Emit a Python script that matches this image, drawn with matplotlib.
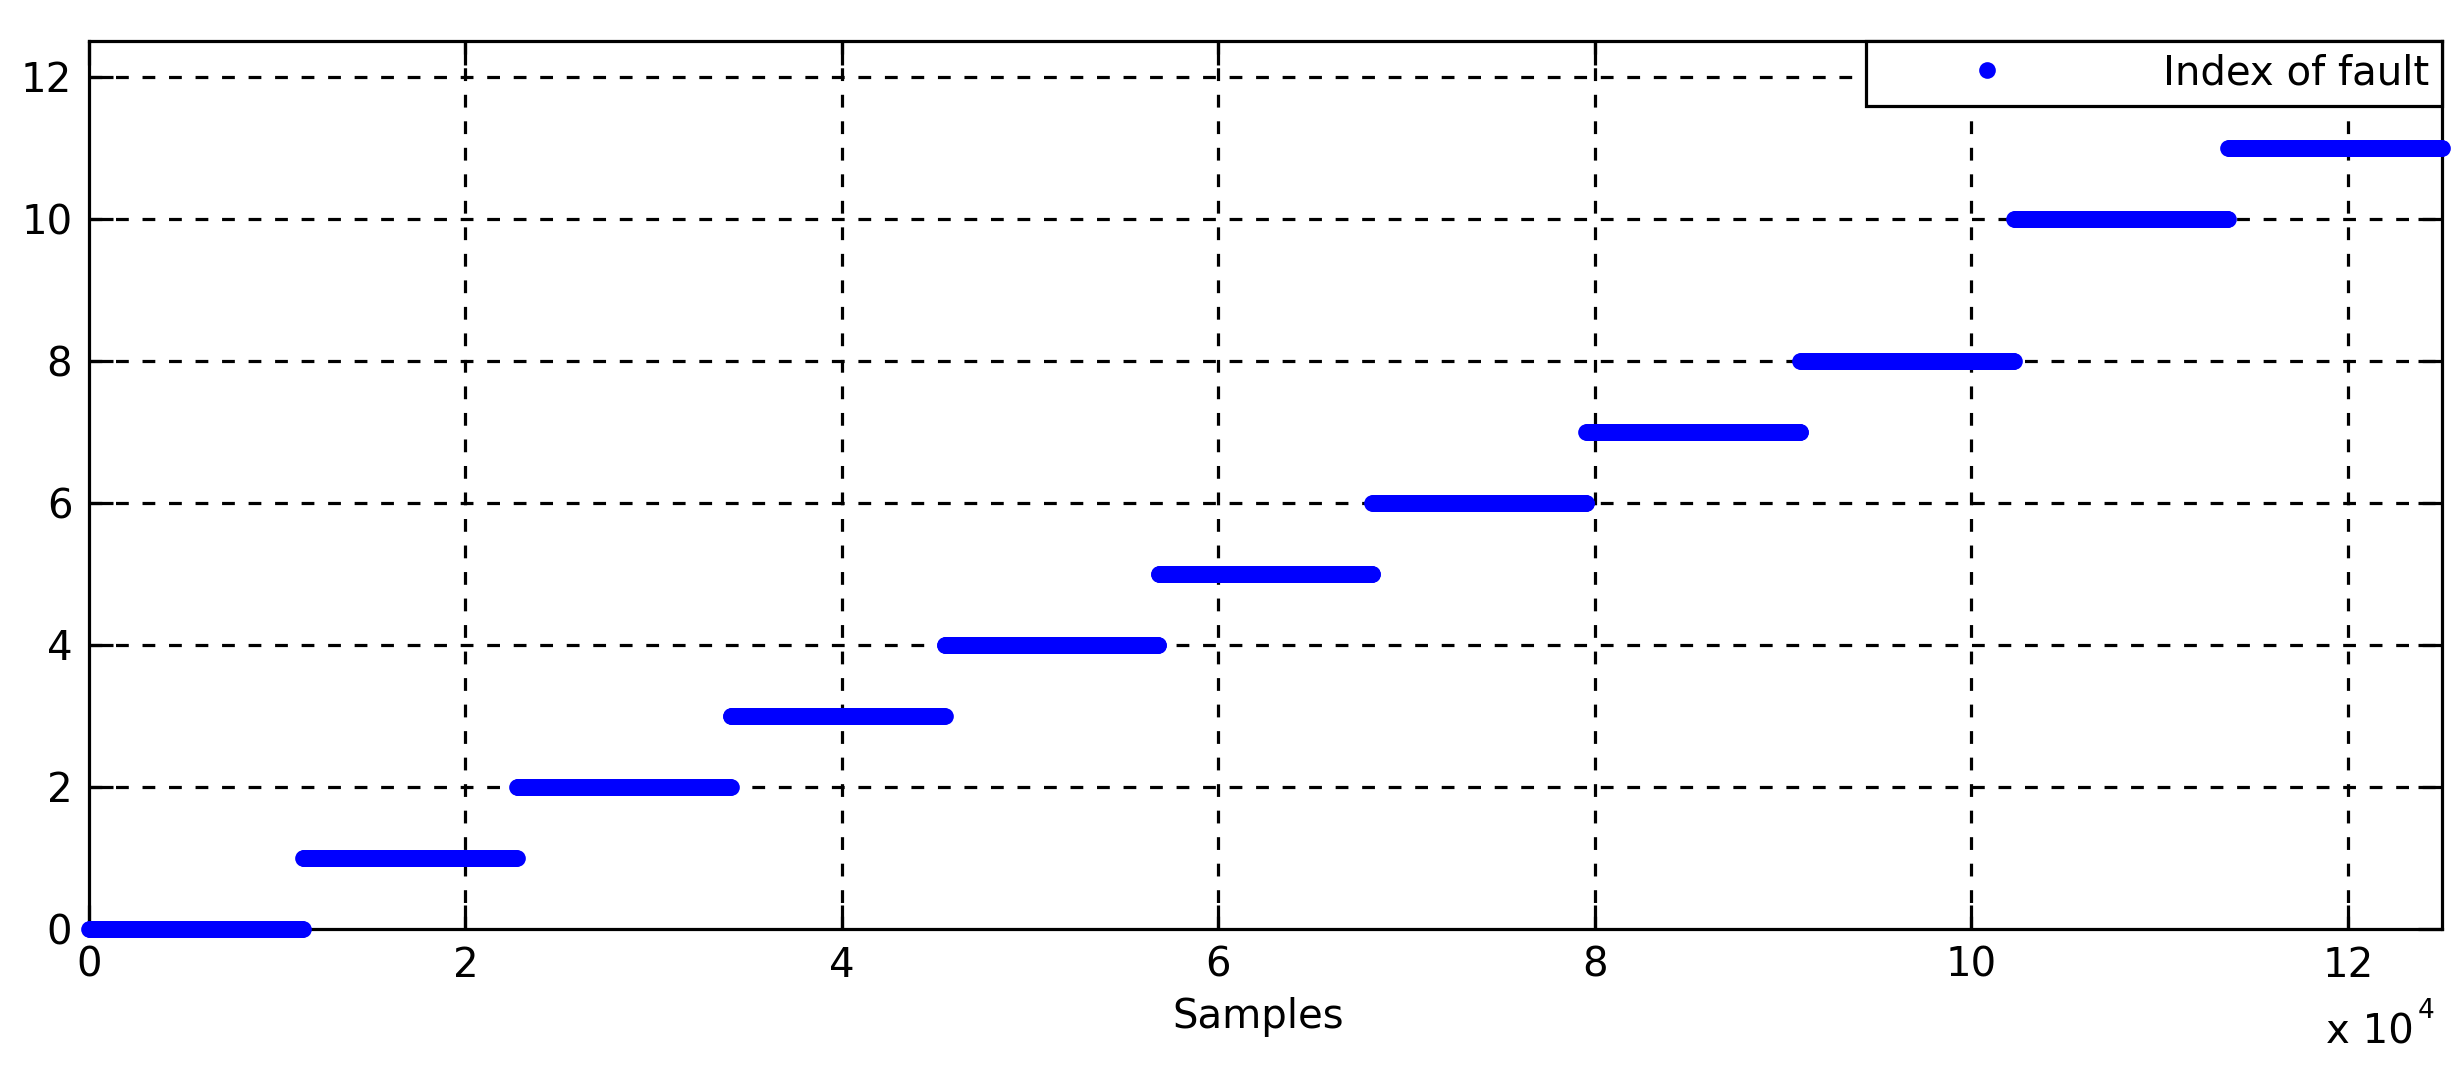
import matplotlib.pyplot as plt
import numpy as np

plt.rcParams['font.family'] = ['DejaVu Sans']

# fault index held over consecutive sample ranges
seg_start = [0, 11360, 22730, 34090, 45450, 56820, 68180, 79550, 90910, 102270, 113640]
seg_end = [11360, 22730, 34090, 45450, 56820, 68180, 79550, 90910, 102270, 113640, 125000]
fault_idx = [0, 1, 2, 3, 4, 5, 6, 7, 8, 10, 11]

xtick_vals = [0, 20000, 40000, 60000, 80000, 100000, 120000]
xtick_labels = ['0', '2', '4', '6', '8', '10', '12']
ytick_vals = [0, 2, 4, 6, 8, 10, 12]

samples = []
index = []
for s, e, f in zip(seg_start, seg_end, fault_idx):
    xs = np.arange(s, e + 1, 40)
    samples.append(xs)
    index.append(np.full(xs.shape, f))
samples = np.concatenate(samples)
index = np.concatenate(index)

fig = plt.figure(figsize=(24.64, 10.66), dpi=100)
ax = fig.add_axes([0.0361, 0.1285, 0.9550, 0.8330])

ax.plot(samples, index, 'o', color='#0000ff', ms=12, mew=0,
        clip_on=False, zorder=3, label='Index of fault')

ax.set_xlim(0, 125000)
ax.set_ylim(0, 12.5)
ax.set_xticks(xtick_vals)
ax.set_xticklabels(xtick_labels)
ax.set_yticks(ytick_vals)

ax.set_axisbelow(False)
ax.grid(True, color='black', linestyle=(0, (4, 4.3)), linewidth=2.3)
# no grid on the axis limits
ax.yaxis.get_gridlines()[0].set_visible(False)
ax.xaxis.get_gridlines()[0].set_visible(False)

ax.tick_params(direction='in', length=17, width=2.3, labelsize=29,
               top=True, right=True, color='black')
ax.tick_params(axis='x', pad=12)
ax.tick_params(axis='y', pad=12)
for sp in ax.spines.values():
    sp.set_linewidth(2.3)

ax.set_xlabel('Samples', fontsize=29)
ax.xaxis.set_label_coords(0.497, -0.076)

fig.text(2414 / 2464, 1 - 1043 / 1066, 'x 10', fontsize=29, ha='right', va='baseline')
fig.text(2418 / 2464, 1 - 1018 / 1066, '4', fontsize=19, ha='left', va='baseline')

leg = ax.legend(loc='upper right', bbox_to_anchor=(1, 1), borderaxespad=0,
                fontsize=29, handlelength=5.38, handletextpad=1.7, borderpad=0.31,
                fancybox=False, framealpha=1, edgecolor='black')
leg.get_frame().set_linewidth(2.3)
leg.set_zorder(5)

fig.savefig('out.png', dpi=100, facecolor='white')
